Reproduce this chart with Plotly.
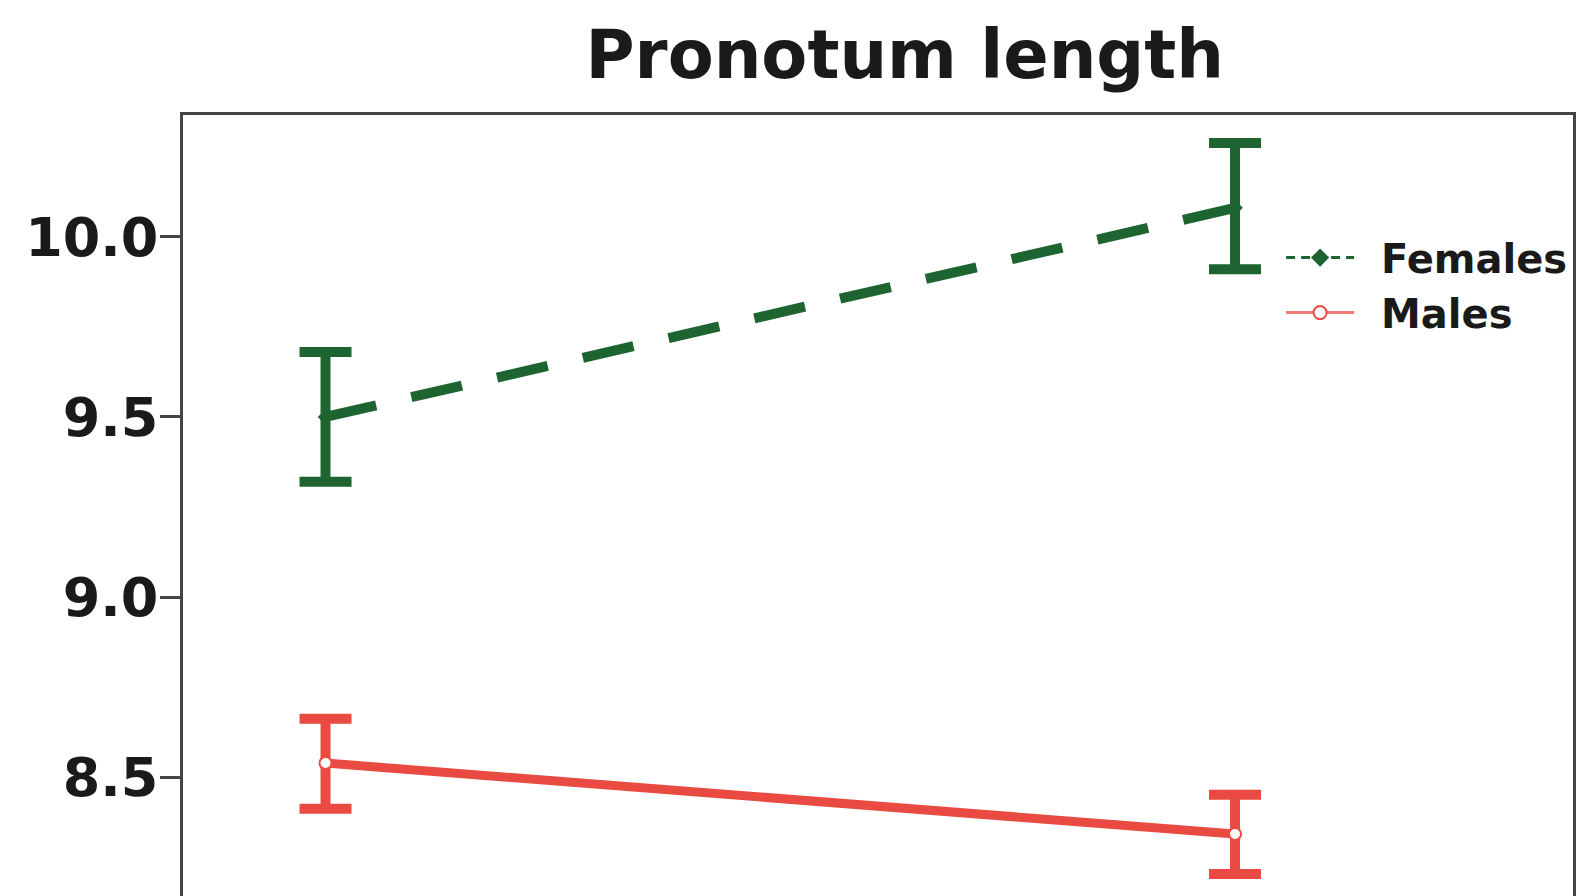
import plotly.graph_objects as go

# ---- data ----
groups = [1, 2]
series_names = ["Females", "Males"]
female_mean = [9.50, 10.08]
female_upper = [9.68, 10.26]
female_lower = [9.32, 9.91]
male_mean = [8.54, 8.343]
male_upper = [8.663, 8.452]
male_lower = [8.413, 8.232]
y_ticks = [8.5, 9.0, 9.5, 10.0]
y_tick_labels = ["8.5", "9.0", "9.5", "10.0"]

GREEN = "#1d6431"
RED = "#e94a41"
FONT = "DejaVu Sans"

def err(mean, up, lo):
    return dict(type="data", symmetric=False,
                array=[u - m for u, m in zip(up, mean)],
                arrayminus=[m - l for m, l in zip(mean, lo)])

fig = go.Figure()

# Females
e = err(female_mean, female_upper, female_lower)
fig.add_trace(go.Scatter(
    x=groups, y=female_mean, mode="lines+markers", showlegend=False,
    line=dict(color=GREEN, width=10, dash="52px,36px"),
    marker=dict(symbol="diamond", size=12, color=GREEN),
    error_y=dict(**e, color=GREEN, thickness=10, width=26),
))
# Males
e = err(male_mean, male_upper, male_lower)
fig.add_trace(go.Scatter(
    x=groups, y=male_mean, mode="lines+markers", showlegend=False,
    line=dict(color=RED, width=9),
    marker=dict(symbol="circle", size=12, color="white", line=dict(color=RED, width=2)),
    error_y=dict(**e, color=RED, thickness=10, width=26),
))

# legend entries (thin styled symbols)
fig.add_trace(go.Scatter(
    x=[None], y=[None], mode="lines+markers", name="\u00a0\u2009" + series_names[0],
    line=dict(color=GREEN, width=3, dash="9px,6px"),
    marker=dict(symbol="diamond", size=14, color=GREEN),
))
fig.add_trace(go.Scatter(
    x=[None], y=[None], mode="lines+markers", name="\u00a0\u2009" + series_names[1],
    line=dict(color="#f07a72", width=3),
    marker=dict(symbol="circle", size=13, color="white", line=dict(color=RED, width=2)),
))

fig.update_layout(
    width=1579, height=896,
    margin=dict(l=183, r=6, t=115, b=0),
    paper_bgcolor="white", plot_bgcolor="white",
    font=dict(family=FONT, color="#1a1a1a"),
    title=dict(text="<b>Pronotum length</b>", font=dict(size=67, family=FONT, color="#1a1a1a"),
               xref="container", x=0.573, xanchor="center",
               yref="container", y=1 - 55 / 896, yanchor="middle"),
    showlegend=True,
    legend=dict(x=0.790, y=0.859, xanchor="left", yanchor="top",
                font=dict(size=40, family=FONT, color="#1a1a1a", weight="bold"),
                itemwidth=68, bgcolor="rgba(0,0,0,0)", borderwidth=0,
                tracegroupgap=0),
    xaxis=dict(range=[0.8433, 2.3716], side="top", showline=True, linecolor="#444444",
               linewidth=2.5, showticklabels=False, ticks="", showgrid=False,
               zeroline=False, automargin=False),
    yaxis=dict(range=[8.1712, 10.3376], showline=True, mirror=True, linecolor="#444444",
               linewidth=2.5, tickvals=y_ticks, ticktext=y_tick_labels,
               ticks="outside", ticklen=20, tickwidth=2.5, tickcolor="#444444",
               tickfont=dict(size=54, family=FONT, color="#1a1a1a", weight="bold"),
               showgrid=False, zeroline=False, ticklabelstandoff=-9, automargin=False),
)

fig.write_html("out.html",
               config={"displayModeBar": False},
               post_script="document.body.style.margin='0';document.body.style.overflow='hidden';")
